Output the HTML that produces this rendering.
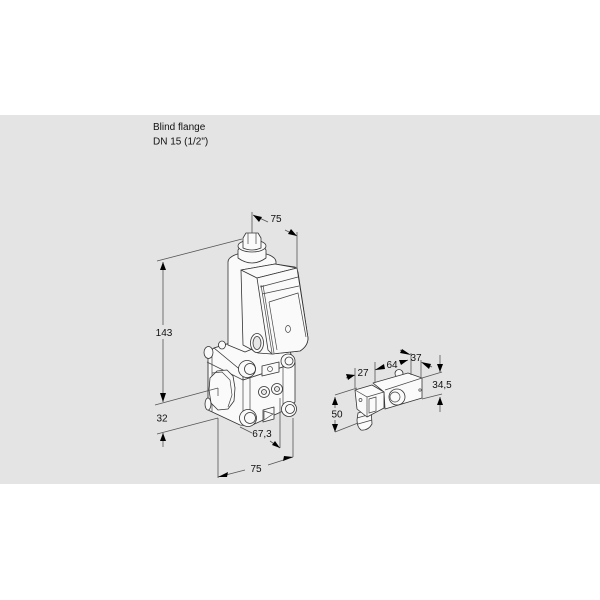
<!DOCTYPE html>
<html><head><meta charset="utf-8"><style>
html,body{margin:0;padding:0;background:#fff;width:600px;height:600px;overflow:hidden}
svg{display:block;filter:blur(.25px)}
text{font-family:"Liberation Sans",sans-serif;font-size:10px;fill:#111}
.d{stroke:#555;stroke-width:.8;fill:none}
.o{stroke:#333;stroke-width:.8;fill:#fafafa;stroke-linejoin:round}
.g{stroke:#333;stroke-width:.8;fill:#e6e6e6;stroke-linejoin:round}
.l{stroke:#444;stroke-width:.7;fill:none}
.a{fill:#000;stroke:none}
</style></head><body>
<svg width="600" height="600" viewBox="0 0 600 600" xmlns="http://www.w3.org/2000/svg">
<rect width="600" height="600" fill="#fff"/>
<rect y="115" width="600" height="369" fill="#e4e4e4"/>
<text x="153" y="130">Blind flange</text>
<text x="153" y="144.500">DN 15 (1/2")</text>

<!-- valve body -->
<path class="o" d="M208 352L214 348L240 340L290 352L295 363V402L283 411L250 426L240 425L208 410Z"/>
<path class="o" d="M214 348L227 344L290 352L295 363L243 380V372Z"/>
<path class="l" d="M207 362L243 380V418M243 380L295 363M250 378V424M208 362V410M283 365V410M212 352V412"/>
<path class="o" d="M262 366L279 362V372L262 376Z"/>
<circle class="l" cx="270" cy="369" r="2.500"/>
<path class="o" d="M217 371L227 370L233 376L235 388L234 401L228 409L218 410L211 403L209 390L210 378Z"/>
<path class="l" d="M212 373L222 372L230 380L232 395L228 407"/>
<circle class="o" cx="264" cy="392" r="5.500"/><circle class="g" cx="264" cy="392" r="2.500"/>
<circle class="o" cx="277" cy="389" r="5.500"/><circle class="g" cx="277" cy="389" r="2.500"/>
<path class="o" d="M263 410L274 407V419L263 422Z"/>
<path class="l" d="M264 411L273 414L264 420Z"/>
<ellipse class="o" cx="208.500" cy="352.500" rx="4.500" ry="6"/>
<ellipse class="o" cx="222" cy="345" rx="3.500" ry="4"/>
<ellipse class="o" cx="208" cy="404" rx="3" ry="6"/>
<circle class="o" cx="247" cy="369" r="8.500"/><circle class="o" cx="250" cy="369" r="5.500"/>
<circle class="o" cx="288" cy="361" r="7"/><circle class="o" cx="289" cy="361" r="4"/>
<circle class="o" cx="289" cy="409" r="7.500"/><circle class="o" cx="290" cy="409" r="4.500"/>
<circle class="o" cx="248" cy="418" r="8.500"/><circle class="o" cx="250" cy="418" r="5.500"/>

<!-- solenoid -->
<path class="o" d="M228 262A24 10 0 0 1 276 262V300H262V345L245 352L228 345Z"/>
<path class="o" d="M238 250V258Q252 268 266 258V250L262 244H242Z"/>
<ellipse class="o" cx="252" cy="246" rx="14" ry="6"/>
<path class="o" d="M243 238L246 233H258L261 238V248Q252 252 243 248Z"/>
<path class="l" d="M248 233V244M256 233V244"/>
<path class="o" d="M241 270L275 264L295 267L298 272L308 338Q308 346 300 351L272 354L258 353L243 345Z"/>
<path class="o" d="M241 270L275 264L297 268L257 278Z"/>
<path class="o" d="M257 278L297 268L308 338Q308 346 300 351L272 354L268 350Z"/>
<path class="l" d="M260 287L298 277M262 294L299 286M269 302L298 293L306 337M269 302L277 350M261 285L272 353M263 285L274 353"/>
<ellipse class="l" cx="288" cy="329" rx="2.500" ry="3.500"/>
<ellipse class="o" cx="257" cy="343" rx="6.500" ry="9.500"/>
<ellipse class="g" cx="257" cy="343" rx="4" ry="6.500"/>

<!-- main dims -->
<path class="d" d="M252 212V233M297 232V268M253 215L268 222M285 230L297 236M157 261L242 239M163 262V325M163 339V402M155 405L218 388M157 434L218 418M163 433V447M218 388V396M218 418V478M293 418V457M218 477L245 470M268 465L293 457M280 398V448M240 427L252 433M270 441L280 448"/>
<path class="a" d="M253 215L262 217L259 222ZM297 236L288 234L291 229ZM163 262L166 270H160ZM163 402L160 393H166ZM163 433L166 441H160ZM218 477L228 472L227 477ZM293 457L283 461L284 456ZM280 448L272 445L275 441Z"/>
<text x="276" y="222" text-anchor="middle">75</text>
<text x="164" y="336" text-anchor="middle">143</text>
<text x="162" y="421.500" text-anchor="middle">32</text>
<text x="262" y="437" text-anchor="middle">67,3</text>
<text x="256" y="472" text-anchor="middle">75</text>

<!-- small solenoid -->
<circle class="o" cx="399" cy="373.500" r="4"/>
<path class="o" d="M373 383L408 373L422 378V398L385 409L384 392Z"/>
<path class="l" d="M385 390L422 378"/>
<circle class="o" cx="397" cy="397" r="8"/><circle class="l" cx="395" cy="397" r="5"/>
<circle class="l" cx="420" cy="390" r="1.200"/>
<path class="o" d="M358 413L371 409L372 424Q368 431 361 430Q357 427 357 420Z"/>
<path class="l" d="M357 418L371 414M358 424L372 420"/>
<path class="o" d="M355 390L372 385L384 392V408L367 417L357 409Z"/>
<path class="l" d="M355 390L367 397V417M367 397L384 392"/>
<path class="l" d="M369 399L376 397V411L369 413Z"/>
<circle class="l" cx="360.500" cy="400" r="1.500"/>
<path class="d" d="M355 368V388M375 362V383M411 353V375M421 360V377M422 378L442 372M422 399L442 394M335 395L357 388M335 432L358 423M346 378L355 375M375 370L384 366M400 363L408 360M400 350L408 354M423 363L432 367M440 355V372M440 397V412M335 397V408M335 420V432"/>
<path class="a" d="M355 375L346 374L348 380ZM375 370L384 364L385 369ZM408 360L399 360L401 365ZM411 355L402 349L400 353ZM421 362L431 364L429 369ZM440 372L437 364H443ZM440 397L437 405H443ZM335 397L332 405H338ZM335 432L332 424H338Z"/>
<text x="363" y="376" text-anchor="middle">27</text>
<text x="392" y="368" text-anchor="middle">64</text>
<text x="416" y="361" text-anchor="middle">37</text>
<text x="442" y="388" text-anchor="middle">34,5</text>
<text x="337" y="417.500" text-anchor="middle">50</text>
</svg>
</body></html>
